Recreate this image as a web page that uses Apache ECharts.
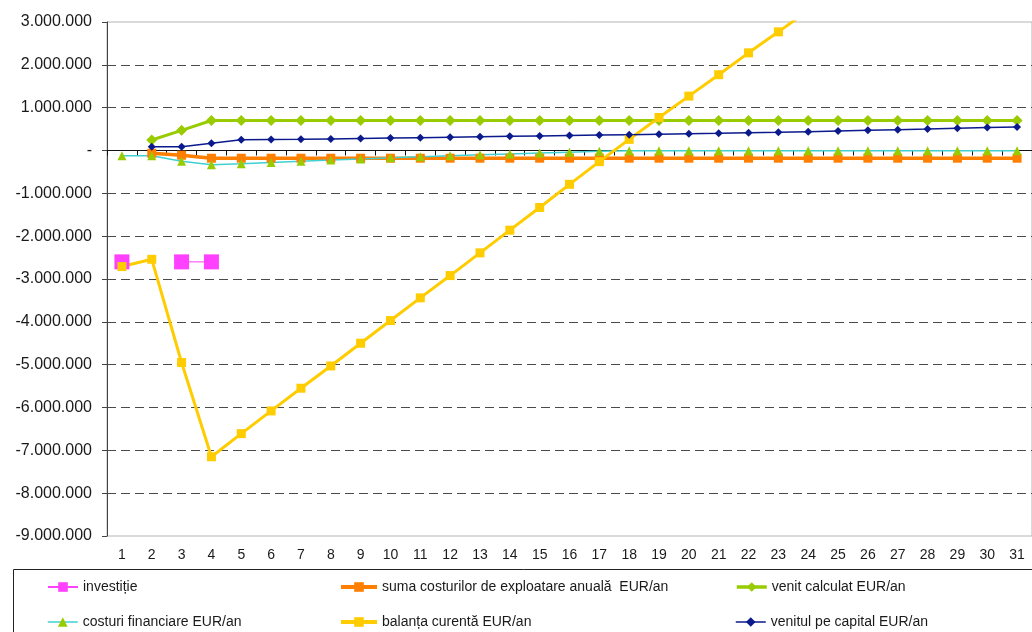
<!DOCTYPE html>
<html>
<head>
<meta charset="utf-8">
<script src="https://cdn.jsdelivr.net/npm/echarts@6/dist/echarts.min.js"></script>
<style>
  html, body { margin: 0; padding: 0; background: #ffffff; }
  #chart { width: 1032px; height: 632px; }
</style>
</head>
<body>
<div id="chart"></div>
<script>
// Years of operation
const years = ['1','2','3','4','5','6','7','8','9','10','11','12','13','14','15','16','17','18','19','20','21','22','23','24','25','26','27','28','29','30','31'];

// EUR per year
const investitie = [-2600000, null, -2600000, -2600000];
const sumaCosturi = [null, -65000, -110000, -180000, -180000, -180000, -180000, -180000, -180000, -180000, -180000, -180000, -180000, -180000, -180000, -180000, -180000, -180000, -180000, -180000, -180000, -180000, -180000, -180000, -180000, -180000, -180000, -180000, -180000, -180000, -180000];
const venitCalculat = [null, 245000, 470000, 700000, 700000, 700000, 700000, 700000, 700000, 700000, 700000, 700000, 700000, 700000, 700000, 700000, 700000, 700000, 700000, 700000, 700000, 700000, 700000, 700000, 700000, 700000, 700000, 700000, 700000, 700000, 700000];
const costuriFinanciare = [-120000, -120000, -250000, -330000, -310000, -280000, -250000, -220000, -200000, -170000, -145000, -120000, -100000, -80000, -60000, -40000, -20000, -5000, -5000, -5000, -5000, -5000, -5000, -5000, -5000, -5000, -5000, -5000, -5000, -5000, -5000];
const balantaCurenta = [-2710000, -2540000, -4950000, -7150000, -6610000, -6080000, -5550000, -5030000, -4500000, -3970000, -3440000, -2920000, -2390000, -1860000, -1330000, -790000, -260000, 260000, 770000, 1270000, 1770000, 2280000, 2770000, 3270000, 3770000, 4270000, 4770000, 5270000, 5770000, 6270000, 6770000];
const venitCapital = [null, 90000, 90000, 170000, 250000, 255000, 260000, 270000, 280000, 290000, 300000, 310000, 320000, 330000, 340000, 350000, 360000, 370000, 380000, 390000, 400000, 415000, 425000, 440000, 455000, 470000, 485000, 500000, 520000, 535000, 550000];

const names = {
  inv: 'investiție',
  cost: 'suma costurilor de exploatare anuală  EUR/an',
  venit: 'venit calculat EUR/an',
  fin: 'costuri financiare EUR/an',
  bal: 'balanța curentă EUR/an',
  cap: 'venitul pe capital EUR/an'
};

const FONT = 'Liberation Sans, Arial, sans-serif';

function fmt(v) {
  if (v === 0) return '-';
  const s = Math.abs(v).toString().replace(/\B(?=(\d{3})+(?!\d))/g, '.');
  return (v < 0 ? '-' : '') + s;
}

// dashed gridlines; min, zero and max lines are left to the frame and axis
const splitColors = [];
for (let v = -9000000; v <= 3000000; v += 1000000) {
  splitColors.push((v === -9000000 || v === 0 || v === 3000000) ? 'rgba(0,0,0,0)' : '#4a4a4a');
}

const legendText = { fontFamily: FONT, fontSize: 14, color: '#1a1a1a' };

// one legend entry per cell of the 3 x 2 key
function legendItem(name, left, top, itemWidth, lineWidth) {
  return {
    orient: 'horizontal', left: left, top: top, padding: 0,
    itemWidth: itemWidth, itemHeight: 12,
    lineStyle: { width: lineWidth },
    textStyle: legendText, data: [name], selectedMode: false
  };
}

const chart = echarts.init(document.getElementById('chart'), null, { renderer: 'canvas' });
chart.setOption({
  animation: false,
  backgroundColor: '#ffffff',
  grid: {
    left: 107, right: -11, top: 22, bottom: 96,
    show: true, borderColor: '#b4b4b4', borderWidth: 1, backgroundColor: 'transparent'
  },
  xAxis: [
    {
      type: 'category', data: years, boundaryGap: true,
      position: 'bottom',
      axisLine: { onZero: true, lineStyle: { color: '#111111', width: 1 } },
      axisTick: { show: true, length: 5, lineStyle: { color: '#111111' } },
      axisLabel: { show: false },
      splitLine: { show: false }
    },
    {
      type: 'category', data: years, boundaryGap: true,
      position: 'bottom',
      axisLine: { show: false, onZero: false },
      axisTick: { show: false },
      axisLabel: { show: true, margin: 12, fontFamily: FONT, fontSize: 14, color: '#1a1a1a', interval: 0 },
      splitLine: { show: false }
    }
  ],
  yAxis: {
    type: 'value', min: -9000000, max: 3000000, interval: 1000000,
    axisLine: { show: true, lineStyle: { color: '#444444', width: 1 } },
    axisTick: { show: true, length: 5, lineStyle: { color: '#444444' } },
    axisLabel: { formatter: fmt, margin: 15, fontFamily: FONT, fontSize: 16, color: '#1a1a1a' },
    splitLine: { show: true, lineStyle: { color: splitColors, type: [9, 5], width: 1 } }
  },
  legend: [
    legendItem(names.inv, 47, 580, 30, 2),
    legendItem(names.fin, 47, 615, 30, 1.5),
    legendItem(names.cost, 339, 580, 36, 4),
    legendItem(names.bal, 339, 615, 36, 4),
    legendItem(names.venit, 735, 580, 30, 3.5),
    legendItem(names.cap, 735, 615, 30, 1.5)
  ],
  graphic: [
    {
      type: 'rect', left: 11, top: 567, z: 100, silent: true,
      shape: { x: 0, y: 0, width: 1040, height: 90 },
      style: { fill: 'none', stroke: '#222222', lineWidth: 1 }
    }
  ],
  series: [
    {
      name: names.inv, type: 'line', data: investitie, xAxisIndex: 0,
      symbol: 'rect', symbolSize: 15, showAllSymbol: true, connectNulls: false,
      lineStyle: { color: '#ff40ff', width: 1 }, itemStyle: { color: '#ff40ff' }
    },
    {
      name: names.cost, type: 'line', data: sumaCosturi, xAxisIndex: 0,
      symbol: 'rect', symbolSize: 9, showAllSymbol: true,
      lineStyle: { color: '#ff7f00', width: 3.5 }, itemStyle: { color: '#ff7f00' }
    },
    {
      name: names.venit, type: 'line', data: venitCalculat, xAxisIndex: 0,
      symbol: 'diamond', symbolSize: 11, showAllSymbol: true,
      lineStyle: { color: '#99cc00', width: 3 }, itemStyle: { color: '#99cc00' }
    },
    {
      name: names.fin, type: 'line', data: costuriFinanciare, xAxisIndex: 0,
      symbol: 'triangle', symbolSize: 9, showAllSymbol: true,
      lineStyle: { color: '#40d0d0', width: 1.5 }, itemStyle: { color: '#99cc00' }
    },
    {
      name: names.bal, type: 'line', data: balantaCurenta, xAxisIndex: 0,
      symbol: 'rect', symbolSize: 9, showAllSymbol: true,
      lineStyle: { color: '#ffcc00', width: 3 }, itemStyle: { color: '#ffcc00' }
    },
    {
      name: names.cap, type: 'line', data: venitCapital, xAxisIndex: 0,
      symbol: 'diamond', symbolSize: 8, showAllSymbol: true,
      lineStyle: { color: '#0a1a8c', width: 1.5 }, itemStyle: { color: '#0a1a8c' }
    }
  ]
});
</script>
</body>
</html>
